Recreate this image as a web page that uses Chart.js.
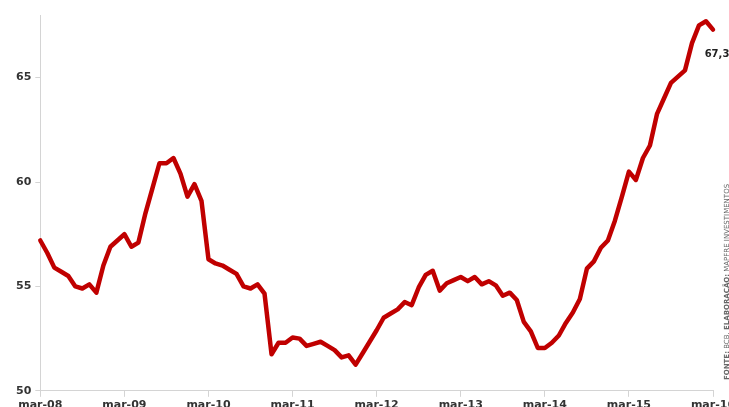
<!DOCTYPE html>
<html>
<head>
<meta charset="utf-8">
<script src="https://cdn.jsdelivr.net/npm/chart.js@4/dist/chart.umd.min.js"></script>
<style>
  html, body { margin: 0; padding: 0; background: #fff; overflow: hidden; }
  #wrap { width: 739px; height: 414px; }
</style>
</head>
<body>
<div id="wrap"><canvas id="chart" width="739" height="414"></canvas></div>
<script>
// meses em portugues, serie mensal de mar-08 a mar-16
const monthNames = ['jan', 'fev', 'mar', 'abr', 'mai', 'jun', 'jul', 'ago', 'set', 'out', 'nov', 'dez'];
const firstYear = 2008;
const firstMonth = 2; // mar

const values = [
    57.2, 56.6, 55.9, 55.7, 55.5, 55.0, 54.9, 55.1, 54.7, 56.0, 56.9, 57.2,
    57.5, 56.9, 57.1, 58.5, 59.7, 60.9, 60.9, 61.15, 60.4, 59.3, 59.9, 59.1,
    56.3, 56.1, 56.0, 55.8, 55.6, 55.0, 54.9, 55.1, 54.65, 51.75, 52.3, 52.3,
    52.55, 52.5, 52.15, 52.25, 52.35, 52.15, 51.95, 51.6, 51.7, 51.25, 51.8, 52.35,
    52.9, 53.5, 53.7, 53.9, 54.25, 54.1, 54.95, 55.55, 55.75, 54.8, 55.15, 55.3,
    55.45, 55.25, 55.45, 55.1, 55.25, 55.05, 54.55, 54.7, 54.35, 53.3, 52.85, 52.05,
    52.05, 52.3, 52.65, 53.25, 53.75, 54.4, 55.85, 56.2, 56.85, 57.2, 58.15, 59.3,
    60.5, 60.1, 61.15, 61.75, 63.25, 64.0, 64.75, 65.05, 65.35, 66.65, 67.5, 67.7,
    67.3
];

const yTicks = [50, 55, 60, 65];
const sourceBold = 'FONTE:';
const sourceText = ' BCB. ';
const sourceBold2 = 'ELABORAÇÃO:';
const sourceText2 = ' MAPFRE INVESTIMENTOS';

const labels = values.map((v, i) => {
    const m = firstMonth + i;
    const yr = firstYear + Math.floor(m / 12);
    return monthNames[m % 12] + '-' + String(yr).slice(2);
});

const tickFont = { family: 'DejaVu Sans', size: 11, weight: 'bold' };
const axisColor = '#d4d4d4';

// rotulo do ultimo valor + fonte na vertical
const annotations = {
    id: 'annotations',
    afterDatasetsDraw(chart) {
        const ctx = chart.ctx;
        const meta = chart.getDatasetMeta(0);
        const last = meta.data[meta.data.length - 1];
        ctx.save();
        ctx.fillStyle = '#222';
        ctx.font = 'bold 10px "DejaVu Sans"';
        ctx.textAlign = 'center';
        ctx.textBaseline = 'middle';
        ctx.fillText(values[values.length - 1].toFixed(1).replace('.', ','), last.x + 4, last.y + 25);
        ctx.restore();

        ctx.save();
        ctx.translate(chart.chartArea.right + 14, 380);
        ctx.rotate(-Math.PI / 2);
        ctx.textAlign = 'left';
        ctx.textBaseline = 'middle';
        ctx.fillStyle = '#666';
        let x = 0;
        [[sourceBold, true], [sourceText, false], [sourceBold2, true], [sourceText2, false]].forEach(([t, b]) => {
            ctx.font = (b ? 'bold ' : '') + '7px "DejaVu Sans"';
            ctx.fillText(t, x, 0);
            x += ctx.measureText(t).width;
        });
        ctx.restore();
    }
};

new Chart(document.getElementById('chart').getContext('2d'), {
    type: 'line',
    data: {
        labels: labels,
        datasets: [{
            data: values,
            borderColor: '#c00000',
            borderWidth: 4.5,
            pointRadius: 0,
            tension: 0,
            borderJoinStyle: 'round',
            borderCapStyle: 'round',
            fill: false,
            clip: false
        }]
    },
    options: {
        responsive: false,
        animation: false,
        devicePixelRatio: 1,
        layout: { padding: { left: 12, right: 26, top: 15, bottom: 0 } },
        plugins: {
            legend: { display: false },
            tooltip: { enabled: false }
        },
        scales: {
            x: {
                type: 'category',
                offset: false,
                afterBuildTicks: (axis) => {
                    axis.ticks = axis.ticks.filter((t) => t.value % 12 === 0);
                },
                ticks: {
                    autoSkip: false,
                    maxRotation: 0,
                    padding: 2,
                    color: '#333',
                    font: tickFont
                },
                grid: {
                    drawOnChartArea: false,
                    tickLength: 6,
                    color: axisColor
                },
                border: { color: axisColor }
            },
            y: {
                min: 50,
                max: 68,
                afterBuildTicks: (axis) => {
                    axis.ticks = yTicks.map((v) => ({ value: v }));
                },
                ticks: {
                    padding: 4,
                    color: '#333',
                    font: tickFont
                },
                grid: {
                    drawOnChartArea: false,
                    tickLength: 5,
                    color: axisColor
                },
                border: { color: axisColor }
            }
        }
    },
    plugins: [annotations]
});
</script>
</body>
</html>
